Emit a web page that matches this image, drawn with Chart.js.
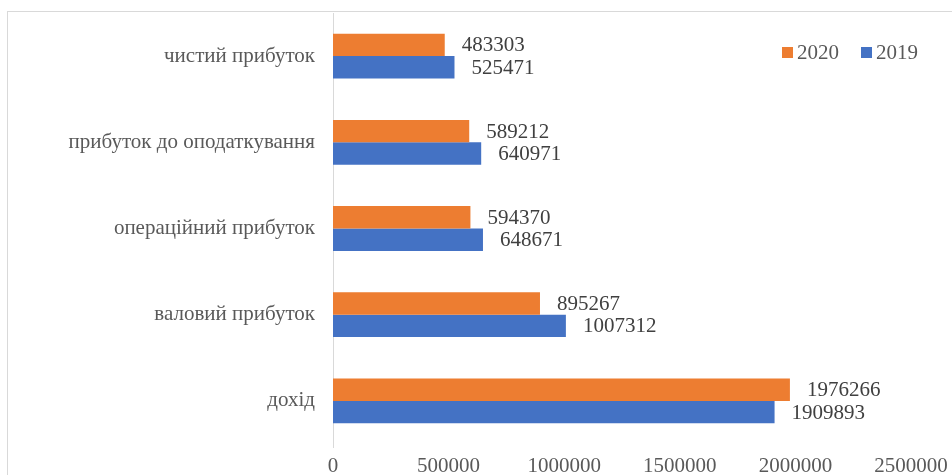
<!DOCTYPE html>
<html>
<head>
<meta charset="utf-8">
<script src="https://cdn.jsdelivr.net/npm/chart.js@4.4.0/dist/chart.umd.min.js"></script>
<style>
  html, body { margin: 0; padding: 0; background: #fff; }
  #wrap { width: 952px; height: 475px; position: relative; }
</style>
</head>
<body>
<div id="wrap"><canvas id="chart" width="952" height="475"></canvas></div>
<script>
// дані
const categories = ['чистий прибуток', 'прибуток до оподаткування', 'операційний прибуток', 'валовий прибуток', 'дохід'];
const values2020 = [483303, 589212, 594370, 895267, 1976266];
const values2019 = [525471, 640971, 648671, 1007312, 1909893];
const xTicks = [0, 500000, 1000000, 1500000, 2000000, 2500000];

const FONT = '"Liberation Serif", "Times New Roman", serif';
const FONT_SIZE = 21;

// рамка області діаграми
const framePlugin = {
    id: 'frame',
    beforeDraw(chart) {
        const ctx = chart.ctx;
        ctx.save();
        ctx.strokeStyle = '#d9d9d9';
        ctx.lineWidth = 1;
        ctx.strokeRect(7.5, 11.5, 1200, 1200);
        ctx.restore();
    }
};

// підписи значень біля стовпців
const valueLabels = {
    id: 'valueLabels',
    afterDatasetsDraw(chart) {
        const ctx = chart.ctx;
        ctx.save();
        ctx.font = FONT_SIZE + 'px ' + FONT;
        ctx.fillStyle = '#404040';
        ctx.textBaseline = 'middle';
        ctx.textAlign = 'left';
        chart.data.datasets.forEach((ds, i) => {
            chart.getDatasetMeta(i).data.forEach((bar, j) => {
                ctx.fillText(String(ds.data[j]), bar.x + 17, bar.y + 1);
            });
        });
        ctx.restore();
    }
};

// легенда у правому верхньому куті
const insideLegend = {
    id: 'insideLegend',
    afterDraw(chart) {
        const ctx = chart.ctx;
        ctx.save();
        ctx.font = FONT_SIZE + 'px ' + FONT;
        ctx.textBaseline = 'middle';
        let x = 782;
        const y = 52;
        chart.data.datasets.forEach(ds => {
            ctx.fillStyle = ds.backgroundColor;
            ctx.fillRect(x, y - 5, 11, 11);
            x += 15;
            ctx.fillStyle = '#595959';
            ctx.fillText(ds.label, x, y + 1);
            x += ctx.measureText(ds.label).width + 22;
        });
        ctx.restore();
    }
};

// продовження осі категорій трохи нижче області графіка
const axisTail = {
    id: 'axisTail',
    afterDraw(chart) {
        const ctx = chart.ctx;
        const a = chart.chartArea;
        ctx.save();
        ctx.strokeStyle = '#d9d9d9';
        ctx.lineWidth = 1;
        ctx.beginPath();
        ctx.moveTo(a.left + 0.5, a.bottom);
        ctx.lineTo(a.left + 0.5, a.bottom + 4);
        ctx.stroke();
        ctx.restore();
    }
};

new Chart(document.getElementById('chart').getContext('2d'), {
    type: 'bar',
    data: {
        labels: categories,
        datasets: [
            { label: '2020', data: values2020, backgroundColor: '#ED7D31', categoryPercentage: 0.52, barPercentage: 1 },
            { label: '2019', data: values2019, backgroundColor: '#4472C4', categoryPercentage: 0.52, barPercentage: 1 }
        ]
    },
    options: {
        indexAxis: 'y',
        responsive: false,
        animation: false,
        layout: { padding: { top: 13, right: 41, bottom: 0, left: 0 } },
        plugins: {
            legend: { display: false },
            tooltip: { enabled: false }
        },
        scales: {
            x: {
                min: 0,
                max: 2500000,
                afterBuildTicks(scale) {
                    scale.ticks = xTicks.map(v => ({ value: v }));
                },
                afterFit(scale) {
                    scale.height = 31;
                    scale.paddingLeft = 0;
                    scale.paddingRight = 0;
                },
                grid: { display: false, drawTicks: false },
                border: { display: false },
                ticks: {
                    padding: 12,
                    color: '#595959',
                    font: { family: FONT, size: FONT_SIZE, lineHeight: 1 },
                    maxRotation: 0,
                    callback: v => String(v)
                }
            },
            y: {
                afterFit(scale) {
                    scale.width = 333;
                    scale.paddingTop = 0;
                    scale.paddingBottom = 0;
                },
                grid: { display: false, drawTicks: false },
                border: { display: true, color: '#d9d9d9', width: 1 },
                ticks: {
                    padding: 18,
                    color: '#595959',
                    font: { family: FONT, size: FONT_SIZE }
                }
            }
        }
    },
    plugins: [framePlugin, valueLabels, insideLegend, axisTail]
});
</script>
</body>
</html>
